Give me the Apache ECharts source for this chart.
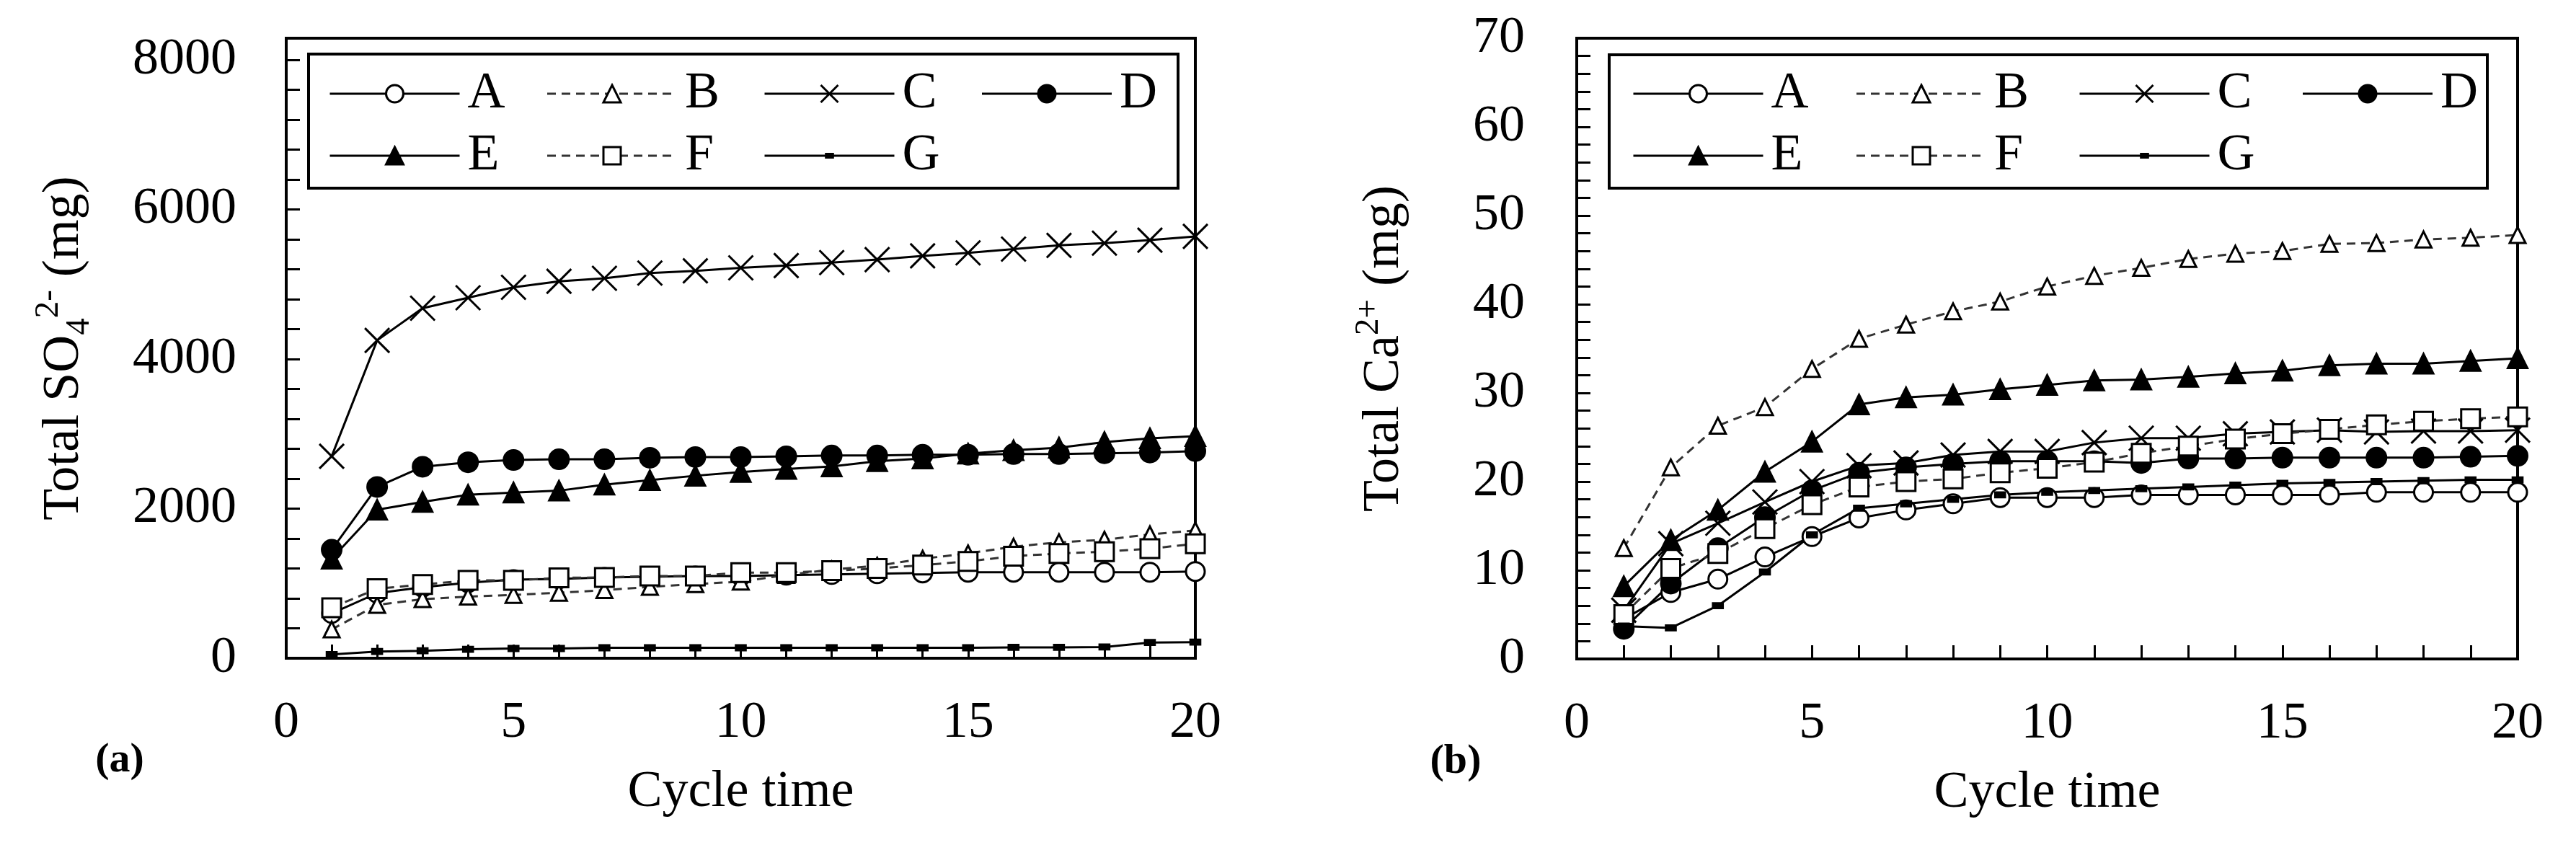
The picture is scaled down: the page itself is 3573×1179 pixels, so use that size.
<!DOCTYPE html>
<html>
<head>
<meta charset="utf-8">
<script src="https://cdn.jsdelivr.net/npm/echarts@6.0.0/dist/echarts.min.js"></script>
<style>
  html, body { margin: 0; padding: 0; background: #fff; }
  #chart { width: 3573px; height: 1179px; }
</style>
</head>
<body>
<div id="chart"></div>
<script>
// cycle number (x axis)
const cycles = [1, 2, 3, 4, 5, 6, 7, 8, 9, 10, 11, 12, 13, 14, 15, 16, 17, 18, 19, 20];
const names = ['A', 'B', 'C', 'D', 'E', 'F', 'G'];

// (a) total SO4 2- (mg)
const so4A = [600, 870, 950, 1010, 1050, 1060, 1080, 1090, 1100, 1100, 1110, 1120, 1130, 1140, 1150, 1150, 1150, 1150, 1150, 1160];
const so4B = [385, 713, 790, 823, 847, 875, 910, 954, 990, 1025, 1113, 1185, 1236, 1330, 1402, 1491, 1550, 1584, 1656, 1708];
const so4C = [2700, 4250, 4680, 4820, 4960, 5040, 5080, 5150, 5180, 5220, 5250, 5290, 5330, 5380, 5420, 5470, 5520, 5550, 5590, 5640];
const so4D = [1450, 2290, 2560, 2620, 2650, 2660, 2660, 2680, 2690, 2690, 2700, 2710, 2710, 2720, 2720, 2730, 2730, 2740, 2750, 2770];
const so4E = [1330, 1985, 2090, 2185, 2215, 2240, 2320, 2380, 2440, 2490, 2530, 2565, 2635, 2670, 2735, 2780, 2815, 2890, 2940, 2970];
const so4F = [675, 930, 985, 1040, 1040, 1075, 1080, 1100, 1100, 1145, 1145, 1170, 1200, 1245, 1295, 1365, 1400, 1425, 1465, 1530];
const so4G = [50, 90, 100, 120, 130, 130, 140, 140, 140, 140, 140, 140, 140, 140, 140, 145, 145, 150, 210, 215];

// (b) total Ca 2+ (mg)
const caA = [4.5, 7.5, 9.0, 11.5, 13.8, 15.9, 16.8, 17.5, 18.2, 18.2, 18.2, 18.5, 18.5, 18.5, 18.5, 18.5, 18.8, 18.8, 18.8, 18.8];
const caB = [12.5, 21.6, 26.3, 28.4, 32.7, 36.1, 37.7, 39.2, 40.3, 42.0, 43.2, 44.1, 45.1, 45.7, 46.0, 46.8, 46.9, 47.3, 47.5, 47.8];
const caC = [5.5, 13.0, 15.3, 17.7, 20.0, 21.8, 22.1, 23.0, 23.4, 23.4, 24.4, 24.9, 24.9, 25.4, 25.6, 25.8, 25.6, 25.7, 25.7, 25.8];
const caD = [3.4, 8.5, 12.5, 16.0, 19.0, 21.0, 21.6, 22.0, 22.3, 22.3, 22.3, 22.1, 22.6, 22.6, 22.7, 22.7, 22.7, 22.7, 22.8, 22.9];
const caE = [8.2, 13.4, 16.8, 21.1, 24.5, 28.7, 29.5, 29.8, 30.4, 30.9, 31.4, 31.5, 31.8, 32.2, 32.5, 33.1, 33.3, 33.3, 33.6, 33.9];
const caF = [5.0, 10.2, 11.9, 14.7, 17.4, 19.4, 20.0, 20.3, 21.0, 21.5, 22.2, 23.2, 24.0, 24.8, 25.4, 25.9, 26.4, 26.8, 27.1, 27.3];
const caG = [3.7, 3.5, 6.0, 9.8, 14.0, 17.0, 17.5, 18.0, 18.5, 18.8, 19.0, 19.2, 19.4, 19.6, 19.8, 19.9, 20.0, 20.1, 20.2, 20.2];

const so4Ticks = [0, 2000, 4000, 6000, 8000];
const caTicks = [0, 10, 20, 30, 40, 50, 60, 70];
const cycleTicks = [0, 5, 10, 15, 20];

const FONT = '"Liberation Serif", "Times New Roman", serif';
const INK = '#000';

// marker look per series
const CROSS = 'path://M0,0L10,10M10,0L0,10';
const DASH = 'path://M0,0M100,100M30,40L70,40L70,60L30,60Z';
const looks = {
  A: {symbol: 'circle', size: 26, fill: '#fff', dashed: false},
  B: {symbol: 'triangle', size: 22, fill: '#fff', dashed: true},
  C: {symbol: CROSS, size: 34, fill: INK, dashed: false},
  D: {symbol: 'circle', size: 27, fill: INK, dashed: false},
  E: {symbol: 'triangle', size: 27, fill: INK, dashed: false},
  F: {symbol: 'rect', size: 26, fill: '#fff', dashed: true},
  G: {symbol: DASH, size: 34, fill: INK, dashed: false},
};

function makeSeries(name, values, idx) {
  const lk = looks[name];
  return {
    name,
    type: 'line',
    xAxisIndex: idx,
    yAxisIndex: idx,
    data: cycles.map((c, i) => [c, values[i]]),
    symbol: lk.symbol,
    symbolSize: lk.size,
    showAllSymbol: true,
    lineStyle: {color: lk.dashed ? '#333' : INK, width: 3, type: lk.dashed ? [12, 8] : 'solid'},
    itemStyle: {color: lk.fill, borderColor: INK, borderWidth: 3},
    emphasis: {disabled: true},
  };
}

function xAxisFor(idx) {
  return {
    gridIndex: idx,
    type: 'value',
    min: 0, max: 20, interval: 1,
    name: 'Cycle time',
    nameLocation: 'middle',
    nameGap: 150,
    nameTextStyle: {fontSize: 72, fontFamily: FONT, color: INK},
    axisLine: {lineStyle: {color: INK, width: 4}},
    axisTick: {inside: true, length: 19, lineStyle: {color: INK, width: 3}},
    axisLabel: {
      margin: 54, fontSize: 72, fontFamily: FONT, color: INK,
      formatter: v => (cycleTicks.includes(v) ? String(v) : ''),
    },
    splitLine: {show: false},
  };
}

function yAxisFor(idx, max, interval, ticks, name, gap, margin) {
  return {
    gridIndex: idx,
    type: 'value',
    min: 0, max, interval,
    name,
    nameLocation: 'middle',
    nameRotate: 90,
    nameGap: gap,
    nameTextStyle: {
      fontSize: 72, fontFamily: FONT, color: INK, lineHeight: 90,
      rich: {
        sub: {fontSize: 47, fontFamily: FONT, color: INK, lineHeight: 40, verticalAlign: 'bottom'},
        sup: {fontSize: 47, fontFamily: FONT, color: INK, lineHeight: 52, verticalAlign: 'top'},
      },
    },
    axisLine: {lineStyle: {color: INK, width: 4}},
    axisTick: {inside: true, length: 19, lineStyle: {color: INK, width: 3}},
    axisLabel: {
      margin, fontSize: 72, fontFamily: FONT, color: INK,
      formatter: v => (ticks.includes(v) ? String(v) : ''),
    },
    splitLine: {show: false},
  };
}

// legend items only; the frame round it is drawn as a graphic rect.
// each label sits in a fixed-width rich box so the columns line up
function legendFor(left, top, textW) {
  return {
    data: names,
    left, top,
    padding: 0,
    width: 1250,
    orient: 'horizontal',
    itemGap: 14,
    itemWidth: 180,
    itemHeight: 30,
    selectedMode: false,
    itemStyle: {borderWidth: 3},
    lineStyle: {width: 3},
    formatter: name => '{t|' + name + '}',
    textStyle: {
      fontSize: 72, fontFamily: FONT, color: INK,
      rich: {t: {fontSize: 72, fontFamily: FONT, color: INK, lineHeight: 67, width: textW, padding: [0, 0, 0, 6]}},
    },
  };
}

function frameRect(x, y, w, h) {
  return {type: 'rect', shape: {x, y, width: w, height: h}, style: {fill: 'none', stroke: INK, lineWidth: 4}, z: 10};
}

function panelTag(text, x, y) {
  return {type: 'text', x, y, style: {text, font: 'bold 58px ' + FONT, fill: INK, align: 'center', verticalAlign: 'middle'}};
}

const chart = echarts.init(document.getElementById('chart'), null, {renderer: 'canvas'});

const series = [];
[so4A, so4B, so4C, so4D, so4E, so4F, so4G].forEach((vals, i) => series.push(makeSeries(names[i], vals, 0)));
[caA, caB, caC, caD, caE, caF, caG].forEach((vals, i) => series.push(makeSeries(names[i], vals, 1)));

chart.setOption({
  animation: false,
  backgroundColor: '#fff',
  textStyle: {fontFamily: FONT},
  grid: [
    {left: 397, top: 53, width: 1261, height: 860, show: true, borderColor: INK, borderWidth: 4,
      backgroundColor: 'transparent', outerBoundsMode: 'none'},
    {left: 2187, top: 53, width: 1305, height: 861, show: true, borderColor: INK, borderWidth: 4,
      backgroundColor: 'transparent', outerBoundsMode: 'none'},
  ],
  xAxis: [xAxisFor(0), xAxisFor(1)],
  yAxis: [
    yAxisFor(0, 8290, 400, so4Ticks, 'Total SO{sub|4}{sup|2-} (mg)', 263, 69),
    yAxisFor(1, 70, 2, caTicks, 'Total Ca{sup|2+} (mg)', 222, 72),
  ],
  legend: [
    legendFor(456, 94, 95),
    legendFor(2264, 94, 103),
  ],
  graphic: [
    frameRect(428, 75, 1206, 186),
    frameRect(2232, 76, 1218, 185),
    panelTag('(a)', 166, 1055),
    panelTag('(b)', 2019, 1057),
  ],
  series,
});
</script>
</body>
</html>
